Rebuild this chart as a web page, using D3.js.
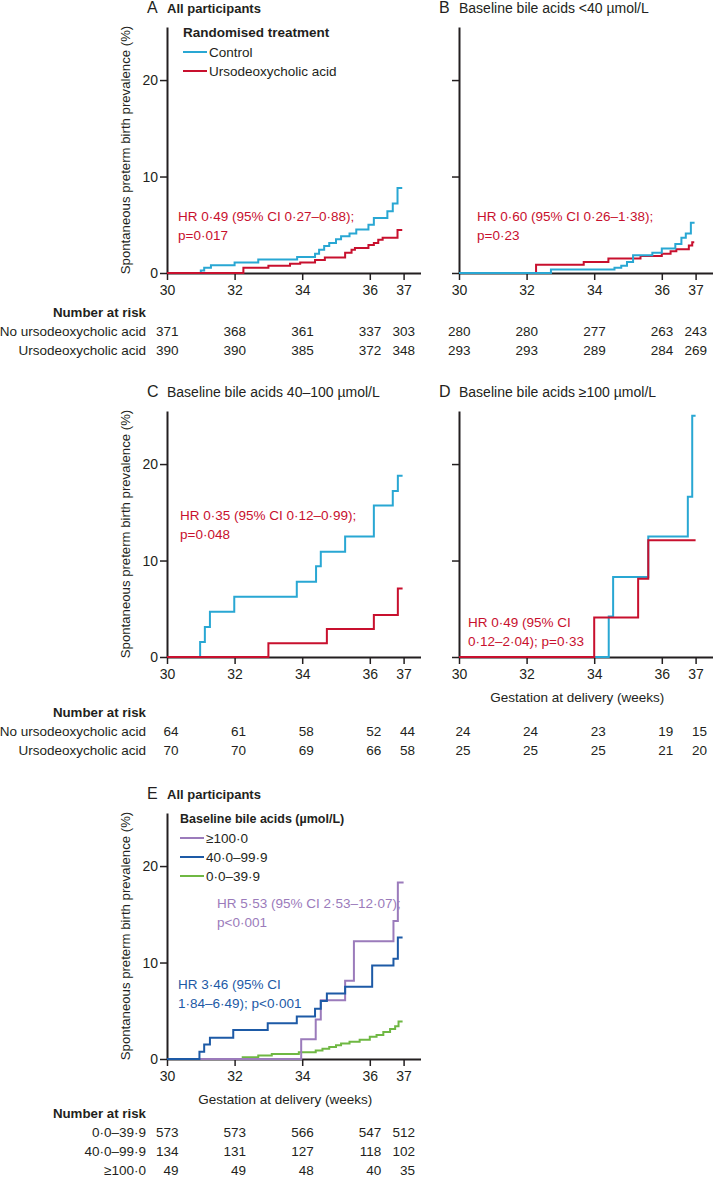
<!DOCTYPE html>
<html><head><meta charset="utf-8">
<script src="https://cdn.jsdelivr.net/npm/d3@7"></script>
<style>
body{margin:0;background:#fff;}
svg{display:block;font-family:"Liberation Sans",Arial,sans-serif;}
</style></head><body>
<svg id="c" width="713" height="1178"></svg>
<script>
// ---------- DATA ----------
const weekTicks = [30, 32, 34, 36, 37];
const pctTicks = [0, 10, 20];

// Panel A (all participants) – [week, %]
const aControl = [[31.0,0.27],[31.1,0.54],[31.3,0.81],[32.0,1.08],[32.7,1.4],[33.85,1.65],[34.38,2.0],[34.5,2.4],[34.65,2.8],[34.8,3.1],[35.0,3.5],[35.15,3.8],[35.4,4.1],[35.6,4.5],[35.96,5.0],[36.12,5.7],[36.52,6.4],[36.68,7.2],[36.82,8.8]];
const aUdca = [[32.26,0.55],[33.0,0.75],[33.64,0.95],[33.94,1.1],[34.38,1.35],[34.67,1.6],[35.27,2.1],[35.46,2.4],[35.56,2.6],[35.96,2.9],[36.12,3.1],[36.25,3.45],[36.38,3.65],[36.82,4.45]];
// Panel B (<40)
const bControl = [[32.72,0.36],[34.6,0.55],[34.8,0.75],[34.97,1.15],[35.15,1.85],[35.72,2.1],[36.0,2.55],[36.4,3.0],[36.58,3.65],[36.71,4.1],[36.86,5.2]];
const bUdca = [[32.28,0.85],[33.69,1.15],[34.42,1.5],[35.37,1.75],[36.0,2.0],[36.26,2.25],[36.43,2.45],[36.8,2.85],[36.9,3.2]];
// Panel C (40–100)
const cControl = [[30.98,1.56],[31.12,3.1],[31.27,4.7],[31.99,6.25],[33.84,7.8],[34.41,9.4],[34.55,10.9],[35.27,12.5],[36.12,15.7],[36.68,17.2],[36.83,18.8]];
const cUdca = [[33.0,1.43],[34.73,2.9],[36.12,4.35],[36.83,7.1]];
// Panel D (>=100)
const dControl = [[34.43,4.2],[34.56,8.3],[35.6,12.5],[36.77,16.6],[36.9,25.0]];
const dUdca = [[34.0,4.1],[35.3,8.1],[35.6,12.1]];
// Panel E (by baseline bile acids)
const eHigh = [[33.97,2.05],[34.4,4.1],[34.55,6.1],[35.27,8.1],[35.53,12.2],[36.7,14.3],[36.83,18.3]];
const eMid = [[30.96,0.75],[31.1,1.5],[31.27,2.2],[31.96,3.0],[32.98,3.7],[33.84,4.4],[34.38,5.2],[34.55,6.0],[34.73,6.8],[35.27,7.5],[36.07,9.7],[36.7,10.4],[36.83,12.6]];
const eLow = [[32.24,0.18],[32.7,0.36],[33.1,0.53],[33.9,0.71],[34.4,0.89],[34.6,1.07],[34.8,1.25],[35.0,1.43],[35.15,1.6],[35.4,1.8],[35.7,2.0],[36.0,2.3],[36.2,2.5],[36.4,2.8],[36.6,3.1],[36.75,3.4],[36.85,3.9]];

// Number at risk
const riskLabelsTrt = ["No ursodeoxycholic acid", "Ursodeoxycholic acid"];
const riskA = [[371,368,361,337,303],[390,390,385,372,348]];
const riskB = [[280,280,277,263,243],[293,293,289,284,269]];
const riskC = [[64,61,58,52,44],[70,70,69,66,58]];
const riskD = [[24,24,23,19,15],[25,25,25,21,20]];
const riskLabelsE = ["0·0–39·9", "40·0–99·9", "≥100·0"];
const riskE = [[573,573,566,547,512],[134,131,127,118,102],[49,49,48,40,35]];

// ---------- STYLE ----------
const INK = "#231f20";
const CYAN = "#29a7d3";
const RED = "#c8102e";
const PURPLE = "#9b7bbb";
const BLUE = "#1d5aa6";
const GREEN = "#6fb843";
const FAMILY = '"Liberation Sans", Arial, sans-serif';

const svg = d3.select("#c");

function txt(g, s){
  return g.append("text").attr("font-family", FAMILY).attr("font-size", s).attr("fill", INK);
}

function panel(cfg){
  const g = svg.append("g");
  const x = d3.scaleLinear().domain([30, 37.5]).range([cfg.x0, cfg.x0 + 253.5]);
  const y = d3.scaleLinear().domain([0, 25.5]).range([cfg.y0, cfg.y0 - 246]);

  const ya = g.append("g").attr("transform", `translate(${cfg.x0},0)`)
    .call(d3.axisLeft(y).tickValues(pctTicks).tickSize(7).tickSizeOuter(0).tickPadding(2)
      .tickFormat(cfg.yLabels ? d => d : () => ""));
  const xa = g.append("g").attr("transform", `translate(0,${cfg.y0})`)
    .call(d3.axisBottom(x).tickValues(weekTicks).tickSize(7).tickSizeOuter(0).tickPadding(5).tickFormat(d => d));
  [ya, xa].forEach(a => {
    a.select(".domain").attr("stroke", INK).attr("stroke-width", 2);
    a.selectAll(".tick line").attr("stroke", INK).attr("stroke-width", 1.5);
    a.selectAll(".tick text").attr("fill", INK).attr("font-size", 14).attr("font-family", FAMILY);
  });

  if (cfg.yLabels){
    txt(g, 13.2).attr("transform", `translate(${cfg.x0 - 37},${cfg.y0 - 123}) rotate(-90)`)
      .attr("text-anchor", "middle").text("Spontaneous preterm birth prevalence (%)");
  }

  txt(g, 16).attr("x", cfg.x0 - 20).attr("y", cfg.y0 - 260).text(cfg.letter);
  txt(g, cfg.titleBold ? 13 : 14).attr("x", cfg.x0).attr("y", cfg.y0 - 260)
    .attr("font-weight", cfg.titleBold ? "bold" : "normal").text(cfg.title);

  const line = d3.line().x(d => x(d[0])).y(d => y(d[1])).curve(d3.curveStepAfter);
  cfg.series.forEach(s => {
    const pts = [[30, 0], ...s.data, [s.end, s.data[s.data.length - 1][1]]];
    g.append("path").attr("d", line(pts)).attr("fill", "none").attr("stroke", s.color).attr("stroke-width", 2);
  });

  (cfg.notes || []).forEach(n => {
    n.lines.forEach((t, i) => {
      txt(g, 13.5).attr("x", n.x).attr("y", n.y + i * 19).attr("fill", n.color).text(t);
    });
  });

  if (cfg.legend){
    const L = cfg.legend;
    txt(g, L.titleSize).attr("x", L.x).attr("y", L.y).attr("font-weight", "bold").text(L.title);
    L.items.forEach((it, i) => {
      const yy = L.y + 20 + i * 19;
      g.append("line").attr("x1", L.x).attr("x2", L.x + 24).attr("y1", yy - 5).attr("y2", yy - 5)
        .attr("stroke", it.color).attr("stroke-width", 2);
      txt(g, 13.5).attr("x", L.x + 26).attr("y", yy).text(it.label);
    });
  }

  if (cfg.xLabel){
    txt(g, 13.5).attr("x", x(33.5)).attr("y", cfg.y0 + 45).attr("text-anchor", "middle")
      .text("Gestation at delivery (weeks)");
  }

  if (cfg.risk){
    const R = cfg.risk;
    if (R.labels){
      txt(g, 13.3).attr("x", 146).attr("y", R.y).attr("text-anchor", "end")
        .attr("font-weight", "bold").text("Number at risk");
      R.labels.forEach((lab, i) => {
        txt(g, 13.5).attr("x", 146).attr("y", R.y + 19 * (i + 1)).attr("text-anchor", "end").text(lab);
      });
    }
    R.values.forEach((row, i) => {
      row.forEach((v, j) => {
        txt(g, 13.5).attr("x", x(weekTicks[j]) + 11.5).attr("y", R.y + 19 * (i + 1)).attr("text-anchor", "end").text(v);
      });
    });
  }
}

panel({x0:167, y0:273, letter:"A", title:"All participants", titleBold:true, yLabels:true,
  series:[{data:aControl, end:36.96, color:CYAN},{data:aUdca, end:36.96, color:RED}],
  notes:[{x:178, y:221, color:RED, lines:["HR 0·49 (95% CI 0·27–0·88);","p=0·017"]}],
  legend:{x:183, y:37, title:"Randomised treatment", titleSize:13.5, items:[{label:"Control", color:CYAN},{label:"Ursodeoxycholic acid", color:RED}]},
  risk:{y:317, labels:riskLabelsTrt, values:riskA}});

panel({x0:459, y0:273, letter:"B", title:"Baseline bile acids <40 µmol/L", titleBold:false, yLabels:false,
  series:[{data:bUdca, end:36.96, color:RED},{data:bControl, end:36.97, color:CYAN}],
  notes:[{x:477, y:221, color:RED, lines:["HR 0·60 (95% CI 0·26–1·38);","p=0·23"]}],
  risk:{y:317, values:riskB}});

panel({x0:167, y0:657, letter:"C", title:"Baseline bile acids 40–100 µmol/L", titleBold:false, yLabels:true,
  series:[{data:cControl, end:36.97, color:CYAN},{data:cUdca, end:36.97, color:RED}],
  notes:[{x:180, y:520, color:RED, lines:["HR 0·35 (95% CI 0·12–0·99);","p=0·048"]}],
  risk:{y:717, labels:riskLabelsTrt, values:riskC}});

panel({x0:459, y0:657, letter:"D", title:"Baseline bile acids ≥100 µmol/L", titleBold:false, yLabels:false, xLabel:true,
  series:[{data:dControl, end:37.0, color:CYAN},{data:dUdca, end:37.0, color:RED}],
  notes:[{x:468, y:627, color:RED, lines:["HR 0·49 (95% CI","0·12–2·04); p=0·33"]}],
  risk:{y:717, values:riskD}});

panel({x0:167, y0:1059, letter:"E", title:"All participants", titleBold:true, yLabels:true, xLabel:true,
  series:[{data:eLow, end:36.97, color:GREEN},{data:eHigh, end:37.0, color:PURPLE},{data:eMid, end:36.97, color:BLUE}],
  notes:[{x:217, y:908, color:PURPLE, lines:["HR 5·53 (95% CI 2·53–12·07);","p<0·001"]},
         {x:178, y:989, color:BLUE, lines:["HR 3·46 (95% CI","1·84–6·49); p<0·001"]}],
  legend:{x:180, y:823, title:"Baseline bile acids (µmol/L)", titleSize:12.5, items:[{label:"≥100·0", color:PURPLE},{label:"40·0–99·9", color:BLUE},{label:"0·0–39·9", color:GREEN}]},
  risk:{y:1118, labels:riskLabelsE, values:riskE}});
</script>
</body></html>
